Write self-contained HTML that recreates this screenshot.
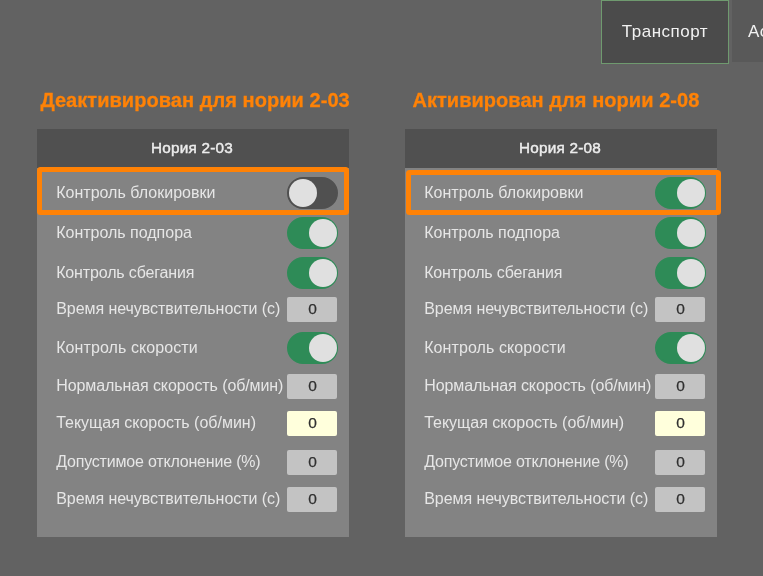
<!DOCTYPE html>
<html lang="ru"><head><meta charset="utf-8"><title>Нории</title>
<style>
html,body{margin:0;padding:0}
body{width:763px;height:576px;overflow:hidden;background:#626262;position:relative;font-family:"Liberation Sans",sans-serif;color:#e4e4e4}
.tab{position:absolute;top:0;left:601px;width:126px;padding-right:0;height:62px;border:1px solid #6f9a6f;background:#4b4b4b;color:#f2f2f2;font-size:17px;letter-spacing:0.5px;line-height:61px;text-align:center;box-sizing:content-box}
.tab2{position:absolute;top:0;left:732px;width:40px;height:61px;padding-top:1px;background:#595959;color:#f2f2f2;font-size:17px;letter-spacing:0.5px;line-height:62px;padding-left:16px;white-space:nowrap}
.hd{position:absolute;top:87px;height:26px;line-height:26px;font-size:20px;font-weight:bold;color:#ff8206;white-space:nowrap;letter-spacing:0.05px;margin-left:0.4px;-webkit-text-stroke:0.3px #ff8206}
.panel{position:absolute;top:129px;width:312px;height:408px;background:#838383}
.ph{position:absolute;left:0;top:0;width:310px;height:39px;line-height:37px;background:#505050;text-align:center;font-size:15.3px;color:#ececec;letter-spacing:0.2px;-webkit-text-stroke:0.45px #ececec;padding-right:2px}
.hl{position:absolute;left:0;top:38px;width:302px;height:38px;border:5px solid #ff8206;border-radius:3.5px}
.lab{position:absolute;left:19.2px;font-size:16px;white-space:nowrap;color:#e6e6e6}
.tg{position:absolute;left:250px;width:47px;height:28px;border:2px solid;border-radius:16px}
.tg i{position:absolute;top:0;width:28px;height:28px;border-radius:14px;background:#e0e0e0}
.tg.on{background:#2e8b57;border-color:#2e8b57}
.tg.on i{right:-1px}
.tg.off{background:#505050;border-color:#505050}
.tg.off i{left:0}
.vb{position:absolute;left:250px;width:49px;padding-left:1px;height:25px;line-height:24px;border-radius:2px;background:#c3c3c3;color:#303030;text-align:center;font-size:15.5px;-webkit-text-stroke:0.25px #303030}
.vb.y{background:#ffffdc}
</style></head><body>
<div class="tab">Транспорт</div>
<div class="tab2">Ас</div>
<div class="hd" style="left:40px">Деактивирован для нории 2-03</div>
<div class="panel" style="left:37px">
<div class="ph">Нория 2-03</div>
<div class="hl"></div>
<div class="lab" style="top:48px;height:32px;line-height:32px;letter-spacing:0.015px">Контроль блокировки</div>
<div class="tg off" style="top:48px"><i></i></div>
<div class="lab" style="top:88px;height:32px;line-height:32px;letter-spacing:-0.006px">Контроль подпора</div>
<div class="tg on" style="top:88px"><i></i></div>
<div class="lab" style="top:128px;height:32px;line-height:32px;letter-spacing:-0.145px">Контроль сбегания</div>
<div class="tg on" style="top:128px"><i></i></div>
<div class="lab" style="top:167px;height:25px;line-height:25px;letter-spacing:-0.051px">Время нечувствительности (с)</div>
<div class="vb" style="top:168px">0</div>
<div class="lab" style="top:203px;height:32px;line-height:32px;letter-spacing:0.088px">Контроль скорости</div>
<div class="tg on" style="top:203px"><i></i></div>
<div class="lab" style="top:244px;height:25px;line-height:25px;letter-spacing:-0.090px">Нормальная скорость (об/мин)</div>
<div class="vb" style="top:245px">0</div>
<div class="lab" style="top:281px;height:25px;line-height:25px;letter-spacing:-0.011px">Текущая скорость (об/мин)</div>
<div class="vb y" style="top:282px">0</div>
<div class="lab" style="top:320px;height:25px;line-height:25px;letter-spacing:-0.193px">Допустимое отклонение (%)</div>
<div class="vb" style="top:321px">0</div>
<div class="lab" style="top:357px;height:25px;line-height:25px;letter-spacing:-0.051px">Время нечувствительности (с)</div>
<div class="vb" style="top:358px">0</div>
</div>
<div class="hd" style="left:412px">Активирован для нории 2-08</div>
<div class="panel" style="left:405px">
<div class="ph">Нория 2-08</div>
<div class="hl" style="left:1px;top:41px;width:305px;height:35px"></div>
<div class="lab" style="top:48px;height:32px;line-height:32px;letter-spacing:0.015px">Контроль блокировки</div>
<div class="tg on" style="top:48px"><i></i></div>
<div class="lab" style="top:88px;height:32px;line-height:32px;letter-spacing:-0.006px">Контроль подпора</div>
<div class="tg on" style="top:88px"><i></i></div>
<div class="lab" style="top:128px;height:32px;line-height:32px;letter-spacing:-0.145px">Контроль сбегания</div>
<div class="tg on" style="top:128px"><i></i></div>
<div class="lab" style="top:167px;height:25px;line-height:25px;letter-spacing:-0.051px">Время нечувствительности (с)</div>
<div class="vb" style="top:168px">0</div>
<div class="lab" style="top:203px;height:32px;line-height:32px;letter-spacing:0.088px">Контроль скорости</div>
<div class="tg on" style="top:203px"><i></i></div>
<div class="lab" style="top:244px;height:25px;line-height:25px;letter-spacing:-0.090px">Нормальная скорость (об/мин)</div>
<div class="vb" style="top:245px">0</div>
<div class="lab" style="top:281px;height:25px;line-height:25px;letter-spacing:-0.011px">Текущая скорость (об/мин)</div>
<div class="vb y" style="top:282px">0</div>
<div class="lab" style="top:320px;height:25px;line-height:25px;letter-spacing:-0.193px">Допустимое отклонение (%)</div>
<div class="vb" style="top:321px">0</div>
<div class="lab" style="top:357px;height:25px;line-height:25px;letter-spacing:-0.051px">Время нечувствительности (с)</div>
<div class="vb" style="top:358px">0</div>
</div>
</body></html>
